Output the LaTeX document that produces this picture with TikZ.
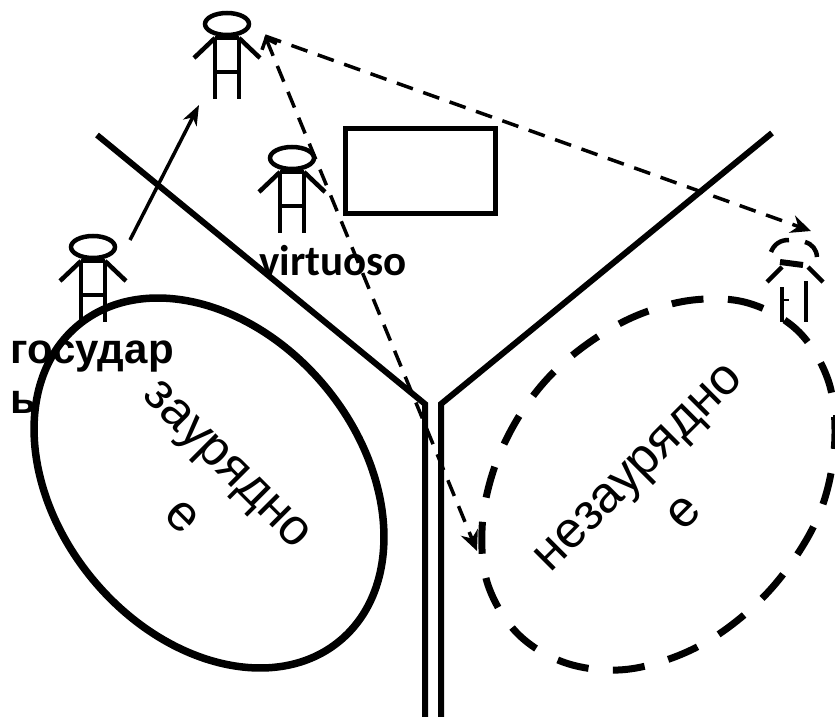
\documentclass[tikz,border=0pt]{standalone}
\usepackage{fontspec}
\setmainfont{Liberation Sans}
\newfontfamily\labelfont{Carlito}
\usetikzlibrary{arrows.meta}

\tikzset{
  wall/.style={line width=6pt},
  bigtext/.style={font=\fontsize{51}{75}\selectfont, align=center, inner sep=0pt},
  person/.pic={
    \draw (0,0) ellipse (22 and 11);
    \draw (-12,14) -- (-12,75);
    \draw (12,14) -- (12,75);
    \draw (-12,14) -- (12,14);
    \draw (-12,48) -- (12,48);
    \draw (-12,14) -- (-33,34);
    \draw (12,14) -- (33,34);
  }
}

\begin{document}
\begin{tikzpicture}[x=1pt, y=-1pt, line width=4.5pt]

  \useasboundingbox (0,0) rectangle (835,717);

  % Walls
  \coordinate (WL) at (97,135);
  \coordinate (JL) at (425,404);
  \coordinate (EL) at (425,717);
  \coordinate (WR) at (772,133);
  \coordinate (JR) at (441,404);
  \coordinate (ER) at (441,717);
  \draw[wall] (WL) -- (JL) -- (EL);
  \draw[wall] (WR) -- (JR) -- (ER);

  % Frame
  \draw[line width=5pt] (345,128) rectangle (495,213);

  % People
  \pic at (227,24) {person};
  \pic at (292,158) {person};
  \pic at (93,247) {person};

  % Dashed person, right side
  \draw (771,252) to[bend left=35] (789,240);
  \draw (805,242) to[bend left=35] (817,257);
  \draw[line width=6pt] (780,262) -- (803,265);
  \draw (767,282) -- (782,267);
  \draw (808,267) -- (823,282);
  \draw (782,287) -- (782,322);
  \draw (806,281) -- (806,322);
  \draw[line width=2pt] (782,300) -- (789,300);

  % Groups
  \draw[line width=7.5pt] (209,483) ellipse[x radius=205, y radius=151, rotate=-50.4];
  \draw[line width=7pt, dash pattern=on 32pt off 24.5pt, dash phase=16pt] plot[smooth cycle, tension=0.6] coordinates {
    (693,300) (748,303) (797,330) (827,377) (835,430) (828,487) (808,537)
    (770,590) (722,632) (672,658) (618,670) (563,662) (517,633) (488,585)
    (482,530) (492,475) (515,423) (548,378) (590,342) (638,315)};
  \node[bigtext, rotate=-45] (common) at (203,489) {заурядно\\[-5.5pt]\hspace*{11pt}е};
  \node[bigtext, rotate=45] (rare) at (661,490) {незаурядно\\[-10pt]е};

  % Labels
  \node[font=\labelfont\bfseries\fontsize{43}{43}\selectfont, inner sep=0pt, anchor=base] (virt) at (333,275) {virtuoso};
  \node[font=\bfseries\fontsize{42}{50}\selectfont, align=left, inner sep=0pt, anchor=base west] (ruler) at (8,413) {государ\\ь};

  % Arrows
  \coordinate (rulerhand) at (130,240);
  \coordinate (tophead) at (199,105);
  \coordinate (topfoot) at (265,36);
  \coordinate (rightend) at (811,231);
  \coordinate (midend) at (477,551);
  \draw[-{Stealth[length=20pt,width=15pt,inset=6pt]}, line width=3.5pt] (rulerhand) -- (tophead);
  \draw[-{Stealth[length=20pt,width=18pt]}, line width=3.5pt, dash pattern=on 17pt off 11pt] (topfoot) -- (rightend);
  \draw[{Straight Barb[length=9pt,width=16pt]}-{Stealth[length=20pt,width=18pt]}, line width=3.5pt, dash pattern=on 17pt off 11pt] (topfoot) -- (midend);

  % Clipped mark at the edge
  \draw[line width=2pt] (834,415) -- (834,445);

\end{tikzpicture}
\end{document}
